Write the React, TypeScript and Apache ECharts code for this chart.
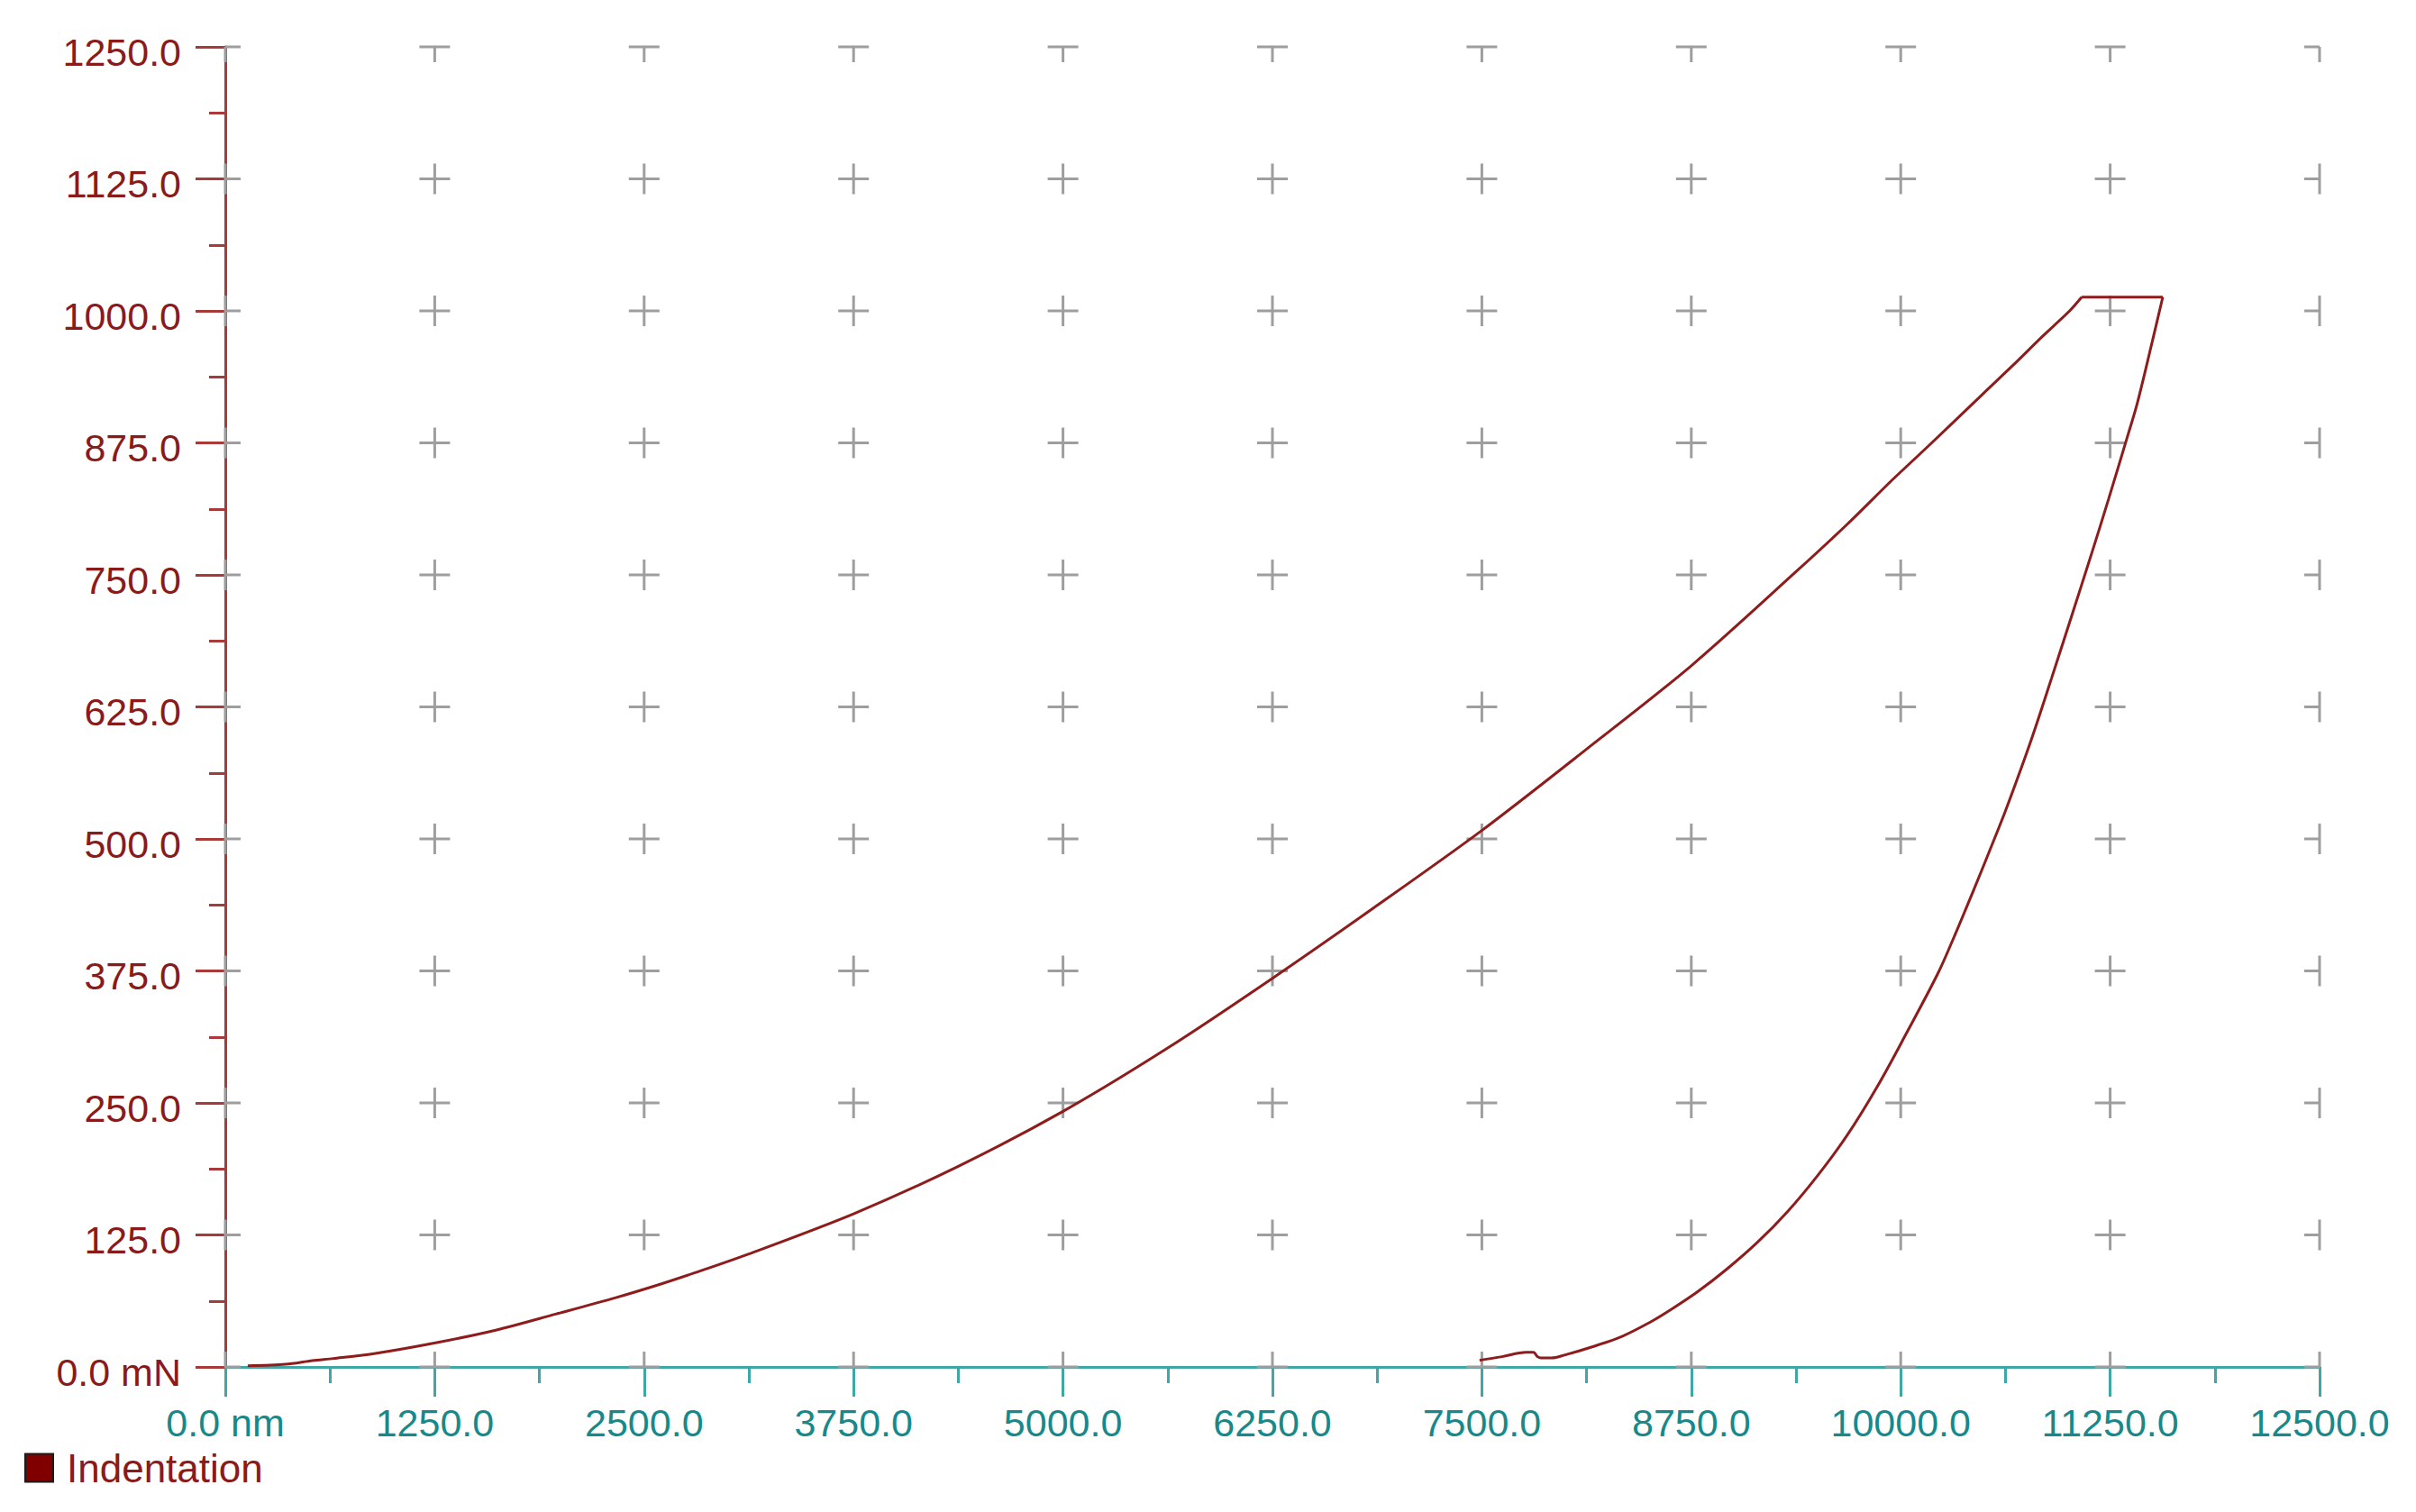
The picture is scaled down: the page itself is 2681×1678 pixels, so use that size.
import React, { useEffect, useRef } from "react";
import * as echarts from "echarts";

// Tick values (labels are formatted from these)
const xTicks = [0, 1250, 2500, 3750, 5000, 6250, 7500, 8750, 10000, 11250, 12500];
const yTicks = [0, 125, 250, 375, 500, 625, 750, 875, 1000, 1125, 1250];

// Loading segment (depth nm, load mN)
const loadX = [134, 359, 520, 645, 896, 1255, 1614, 1972, 2331, 2600, 2800, 3125, 3750, 4375, 5000, 5625, 6250, 6875, 7500, 8125, 8750, 9375, 9681, 9950, 10165, 10488, 10667, 10847, 11008, 11080];
const loadY = [1, 2.5, 6, 8, 12.8, 22.8, 34.8, 50, 65.6, 78.5, 89, 107, 145, 190, 242, 302, 368, 437, 508, 585, 664, 753, 798, 840, 872, 921, 948, 976, 1000, 1013];

// Hold segment
const holdX = [11080, 11564];
const holdY = [1013, 1013];

// Unloading segment
const unloadX = [11564, 11500, 11411, 11357, 11241, 11133, 11026, 10900, 10775, 10631, 10559, 10470, 10400, 10310, 10220, 10041, 9862, 9683, 9503, 9324, 9145, 8965, 8786, 8606, 8517, 8337, 8158, 7997, 7916, 7853, 7832, 7808, 7764, 7620, 7486];
const unloadY = [1013, 970, 912, 883, 822, 767, 714, 652, 592, 529, 500, 465, 438, 404, 372, 318, 266, 220, 181, 147, 118, 93, 71, 52, 43.5, 29, 19, 11.4, 8.5, 8.5, 9.7, 13.9, 13.9, 9.7, 6.3];

const seriesName = "Indentation";

const X_MIN = xTicks[0];
const X_MAX = xTicks[xTicks.length - 1];
const Y_MIN = yTicks[0];
const Y_MAX = yTicks[yTicks.length - 1];

const FONT = "'Liberation Sans', Arial, sans-serif";
const RED_TEXT = "#8B1A1A";
const RED_LINE = "#A83A3A";
const TEAL_TEXT = "#17898B";
const TEAL_LINE = "#3FA8A6";
const CURVE = "#8E1C1C";
const GRAY = "#9E9E9E";

export default function App() {
  const ref = useRef<HTMLDivElement>(null);

  useEffect(() => {
    if (!ref.current) return;
    const chart = echarts.init(ref.current, undefined, { renderer: "svg" });

    const toPairs = (xs: number[], ys: number[]) => xs.map((x, i) => [x, ys[i]]);

    const crosses: number[][] = [];
    xTicks.forEach((x) => yTicks.forEach((y) => crosses.push([x, y])));

    const lineBase = {
      type: "line",
      name: seriesName,
      showSymbol: false,
      symbol: "none",
      z: 4,
      clip: false,
      itemStyle: { color: "#800000" },
      lineStyle: { color: CURVE, width: 3 },
    };

    const option: any = {
      animation: false,
      backgroundColor: "#ffffff",
      grid: {
        left: 250,
        right: 107,
        top: 52,
        bottom: 161,
        containLabel: false,
        outerBoundsMode: "none",
      },
      legend: {
        data: [seriesName],
        left: 22,
        top: 1602,
        orient: "horizontal",
        icon: "rect",
        itemWidth: 31,
        itemHeight: 31,
        itemStyle: { color: "#800000", borderColor: "#1a1a1a", borderWidth: 2 },
        textStyle: { color: RED_TEXT, fontSize: 44, fontFamily: FONT, padding: [0, 0, 0, 10] },
        selectedMode: false,
      },
      xAxis: {
        type: "value",
        min: X_MIN,
        max: X_MAX,
        interval: 1250,
        axisLine: { show: true, onZero: false, lineStyle: { color: TEAL_LINE, width: 3 } },
        axisTick: { show: true, length: 33, lineStyle: { color: TEAL_LINE, width: 3 } },
        minorTick: { show: true, splitNumber: 2, length: 18, lineStyle: { color: TEAL_LINE, width: 3 } },
        axisLabel: {
          color: TEAL_TEXT,
          fontSize: 43,
          fontFamily: FONT,
          margin: 40,
          formatter: (v: number) => (v === 0 ? "0.0 nm" : v.toFixed(1)),
        },
        splitLine: { show: false },
        minorSplitLine: { show: false },
      },
      yAxis: {
        type: "value",
        min: Y_MIN,
        max: Y_MAX,
        interval: 125,
        axisLine: { show: true, onZero: false, lineStyle: { color: RED_LINE, width: 3 } },
        axisTick: { show: true, length: 33, lineStyle: { color: RED_LINE, width: 3 } },
        minorTick: { show: true, splitNumber: 2, length: 18, lineStyle: { color: RED_LINE, width: 3 } },
        axisLabel: {
          color: RED_TEXT,
          fontSize: 43,
          fontFamily: FONT,
          margin: 49,
          formatter: (v: number) => "{a|" + (v === 0 ? "0.0 mN" : v.toFixed(1)) + "}",
          rich: {
            a: {
              color: RED_TEXT,
              fontSize: 43,
              fontFamily: FONT,
              padding: [11, 0, 0, 0],
            },
          },
        },
        splitLine: { show: false },
        minorSplitLine: { show: false },
      },
      series: [
        {
          type: "custom",
          name: "grid-crosses",
          coordinateSystem: "cartesian2d",
          silent: true,
          z: 3,
          clip: false,
          data: crosses,
          encode: { x: 0, y: 1 },
          renderItem: (_params: any, api: any) => {
            const x = api.value(0);
            const y = api.value(1);
            const p = api.coord([x, y]);
            const L = 17;
            const style = { stroke: GRAY, lineWidth: 3, fill: null };
            const hx1 = x > X_MIN ? p[0] - L : p[0];
            const hx2 = x < X_MAX ? p[0] + L : p[0];
            const vy1 = y < Y_MAX ? p[1] - L : p[1];
            const vy2 = y > Y_MIN ? p[1] + L : p[1];
            return {
              type: "group",
              children: [
                { type: "line", shape: { x1: hx1, y1: p[1], x2: hx2, y2: p[1] }, style },
                { type: "line", shape: { x1: p[0], y1: vy1, x2: p[0], y2: vy2 }, style },
              ],
            };
          },
        },
        { ...lineBase, data: toPairs(loadX, loadY), smooth: 0.3 },
        { ...lineBase, data: toPairs(holdX, holdY), smooth: false },
        { ...lineBase, data: toPairs(unloadX, unloadY), smooth: 0.35 },
      ],
    };

    chart.setOption(option);
    return () => {
      chart.dispose();
    };
  }, []);

  return (
    <div
      ref={ref}
      style={{ position: "fixed", left: 0, top: 0, width: 2681, height: 1678, background: "#fff" }}
    />
  );
}
